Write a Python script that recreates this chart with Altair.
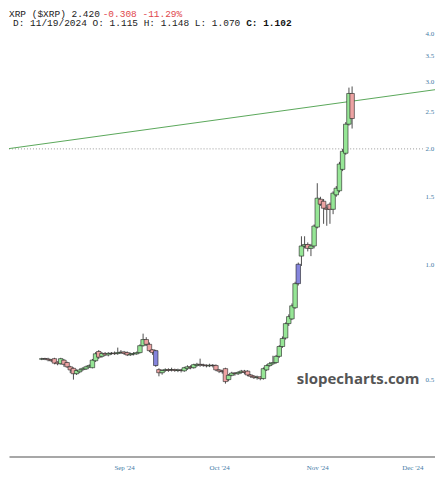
import altair as alt
import pandas as pd

# ---- data ----
start_date = "2024-08-06"
opens = [
    .565, .567, .566, .563, .567, .555, .550, .562, .554, .540,
    .535, .518, .524, .531, .533, .540, .537, .560, .592, .575,
    .585, .580, .585, .586, .585, .588, .590, .588, .580, .583,
    .584, .588, .613, .636, .618, .598, .595, .531, .521, .528,
    .531, .530, .531, .528, .530, .527, .534, .540, .537, .544,
    .548, .546, .545, .543, .545, .544, .530, .526, .534, .500,
    .513, .520, .518, .522, .526, .526, .514, .510, .506, .508,
    .503, .530, .544, .550, .554, .575, .610, .642, .700, .720,
    .770, .890, 1.050, 1.116, 1.126, 1.100, 1.116, 1.250, 1.478, 1.460,
    1.400, 1.434, 1.391, 1.517, 1.555, 1.768, 1.948, 2.320, 2.790,
]
closes = [
    .567, .566, .563, .560, .552, .550, .567, .548, .540, .530,
    .518, .528, .530, .535, .540, .544, .562, .584, .572, .585,
    .580, .585, .586, .584, .588, .590, .585, .580, .583, .585,
    .588, .613, .636, .618, .595, .588, .544, .521, .528, .531,
    .528, .531, .528, .530, .528, .537, .540, .537, .547, .548,
    .546, .545, .543, .545, .544, .530, .526, .524, .494, .513,
    .520, .518, .522, .526, .522, .514, .510, .506, .508, .503,
    .534, .544, .550, .554, .575, .610, .640, .700, .730, .779,
    .890, 1.000, 1.116, 1.126, 1.100, 1.116, 1.258, 1.487, 1.434, 1.400,
    1.390, 1.391, 1.533, 1.579, 1.826, 1.971, 2.320, 2.790, 2.400,
]
highs = [
    .570, .570, .570, .566, .570, .558, .570, .566, .557, .543,
    .538, .532, .535, .539, .544, .548, .566, .590, .597, .590,
    .590, .590, .590, .592, .606, .597, .594, .592, .588, .590,
    .592, .618, .659, .645, .625, .600, .598, .535, .532, .535,
    .535, .537, .534, .534, .533, .540, .545, .545, .550, .553,
    .567, .550, .548, .550, .549, .548, .533, .530, .537, .517,
    .524, .523, .526, .530, .530, .529, .517, .514, .512, .510,
    .538, .548, .556, .577, .580, .615, .648, .705, .740, .790,
    .900, 1.010, 1.183, 1.183, 1.140, 1.130, 1.270, 1.627, 1.500, 1.480,
    1.430, 1.450, 1.550, 1.600, 1.850, 2.000, 2.350, 2.890, 2.910,
]
lows = [
    .562, .562, .558, .556, .548, .545, .547, .540, .536, .520,
    .500, .514, .520, .527, .530, .536, .535, .556, .566, .570,
    .576, .575, .580, .580, .580, .583, .580, .576, .577, .578,
    .580, .585, .610, .612, .590, .580, .540, .510, .515, .524,
    .524, .525, .524, .523, .522, .524, .530, .532, .534, .540,
    .540, .540, .538, .539, .538, .526, .520, .518, .488, .495,
    .510, .512, .514, .518, .516, .510, .505, .502, .500, .498,
    .500, .527, .540, .546, .550, .570, .605, .636, .690, .715,
    .765, .880, .990, 1.100, 1.080, 1.050, 1.100, 1.240, 1.420, 1.275,
    1.260, 1.275, 1.351, 1.500, 1.540, 1.750, 1.930, 2.300, 2.260,
]
special_idx = [36, 81]          # candles painted purple

trend_dates = ["2024-07-26", "2024-12-09"]
trend_values = [2.00, 2.86]
level_value = [2.0]

y_ticks = [0.5, 1.0, 1.5, 2.0, 2.5, 3.0, 3.5, 4.0]
x_ticks = ["2024-09-01", "2024-10-01", "2024-11-01", "2024-12-01"]

header1_black = "XRP ($XRP) 2.420 "
header1_red = "-0.308 -11.29%"
header2_plain = "D: 11/19/2024 O: 1.115 H: 1.148 L: 1.070 "
header2_bold = "C: 1.102"
watermark = "slopecharts.com"

# ---- build tables ----
dates = pd.date_range(start_date, periods=len(opens)).strftime("%Y-%m-%d")
kind = []
for i, (o, c) in enumerate(zip(opens, closes)):
    if i in special_idx:
        kind.append("special")
    elif c >= o:
        kind.append("up")
    else:
        kind.append("down")
df = pd.DataFrame({"date": dates, "open": opens, "close": closes,
                   "high": highs, "low": lows, "kind": kind})


def ms(s):
    return int(pd.Timestamp(s, tz="UTC").timestamp() * 1000)


DAY = 86400000
x0 = ms("2024-09-01") - 34.77 * DAY
x1 = ms("2024-09-01") + 96.6 * DAY

W, H = 427, 448
xscale = alt.Scale(type="utc", domain=[x0, x1])
yscale = alt.Scale(type="log", domain=[0.315, 4.62], nice=False, zero=False)

xaxis = alt.Axis(values=[ms(d) for d in x_ticks], format="%b '%y", title=None,
                 grid=False, ticks=False, domain=True, domainColor="#8a8a8a",
                 domainWidth=1.5, labelFont="Liberation Serif", labelFontSize=7,
                 labelColor="#3f7aa6", labelPadding=7)
yaxis = alt.Axis(values=y_ticks, format=".1f", orient="right", offset=-10,
                 title=None, grid=False, ticks=False, domain=False,
                 labelFont="Liberation Serif", labelFontSize=7,
                 labelColor="#3f7aa6", labelPadding=0, labelAlign="left")

base = alt.Chart(df)

wicks = base.mark_rule(color="#222", strokeWidth=0.8).encode(
    x=alt.X("date:T", scale=xscale, axis=xaxis),
    y=alt.Y("low:Q", scale=yscale, axis=yaxis),
    y2="high:Q",
)
bodies = base.mark_bar(size=4.5, stroke="#222", strokeWidth=0.6).encode(
    x=alt.X("date:T", scale=xscale),
    y=alt.Y("open:Q", scale=yscale),
    y2="close:Q",
    color=alt.Color("kind:N", legend=None,
                    scale=alt.Scale(domain=["up", "down", "special"],
                                    range=["#96e696", "#eda3a3", "#8585dc"])),
)

trend = alt.Chart(pd.DataFrame({"date": trend_dates, "v": trend_values})).mark_line(
    color="#5aa85a", strokeWidth=1, clip=True).encode(
    x=alt.X("date:T", scale=xscale), y=alt.Y("v:Q", scale=yscale))

level = alt.Chart(pd.DataFrame({"v": level_value})).mark_rule(
    color="#9a9a9a", strokeWidth=1, strokeDash=[1, 2]).encode(
    x=alt.value(0), x2=alt.value(W - 11), y=alt.Y("v:Q", scale=yscale))

CW = 9.5 * 0.6
h1a = alt.Chart(pd.DataFrame({"t": [header1_black]})).mark_text(
    font="Liberation Mono", fontSize=9.5, align="left", baseline="alphabetic",
    color="#222").encode(text="t:N", x=alt.value(0), y=alt.value(7))
h1b = alt.Chart(pd.DataFrame({"t": [header1_red]})).mark_text(
    font="Liberation Mono", fontSize=9.5, align="left", baseline="alphabetic",
    color="#e0474c").encode(text="t:N", x=alt.value(len(header1_black) * CW - 3), y=alt.value(7))
h2a = alt.Chart(pd.DataFrame({"t": [header2_plain]})).mark_text(
    font="Liberation Mono", fontSize=9.5, align="left", baseline="alphabetic",
    color="#222").encode(text="t:N", x=alt.value(4), y=alt.value(17))
h2b = alt.Chart(pd.DataFrame({"t": [header2_bold]})).mark_text(
    font="Liberation Mono", fontSize=9.5, fontWeight="bold", align="left",
    baseline="alphabetic", color="#111").encode(
    text="t:N", x=alt.value(4 + len(header2_plain) * CW), y=alt.value(17))

wm = alt.Chart(pd.DataFrame({"t": [watermark]})).mark_text(
    font="Open Sans", fontSize=15, fontWeight="bold", align="center",
    baseline="middle", color="#555").encode(
    text="t:N", x=alt.value(350), y=alt.value(370))

chart = alt.layer(level, trend, wicks, bodies, wm, h1a, h1b, h2a, h2b).properties(
    width=W, height=H, background="white", padding=0
).configure_view(stroke=None)

chart.save("out.html", embed_options={"renderer": "svg", "actions": False})
